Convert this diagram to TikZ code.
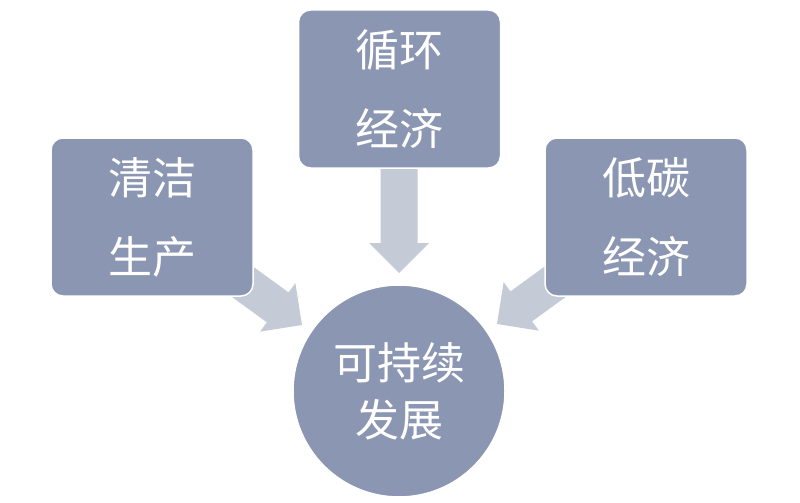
\documentclass[tikz,border=0pt]{standalone}
\usepackage{fontspec}
\newfontfamily\cjk{Noto Sans CJK SC}
\definecolor{boxfill}{RGB}{139,150,178}
\definecolor{arrowfill}{RGB}{197,202,215}
\tikzset{
  card/.style={draw=white, line width=1.5pt, fill=boxfill, rounded corners=12pt,
    minimum width=202pt, minimum height=158pt, inner sep=0pt, text=white,
    align=center, font=\cjk\fontsize{44}{79}\selectfont},
  hub/.style={draw=white, line width=1.5pt, fill=boxfill, circle, minimum size=212pt,
    inner sep=0pt, text=white, align=center, font=\cjk\fontsize{44}{57}\selectfont},
  blockarrow/.style={fill=arrowfill, draw=none}
}
\newcommand{\blockarr}[3]{% tip coordinate, angle, shaft length
  \begin{scope}[shift={(#1)}, rotate=#2]
    \fill[blockarrow] (0,0) -- (-30,30) -- (-30,18.5) -- (-#3,18.5) -- (-#3,-18.5)
      -- (-30,-18.5) -- (-30,-30) -- cycle;
  \end{scope}}
\begin{document}
\begin{tikzpicture}[x=1pt, y=-1pt]
  \useasboundingbox (0,0) rectangle (800,503);
  \coordinate (tipT) at (399,273);
  \coordinate (tipL) at (302,325);
  \coordinate (tipR) at (497,324);
  \blockarr{tipT}{-90}{115}
  \blockarr{tipL}{-36}{100}
  \blockarr{tipR}{-144}{100}
  \node[card] (top) at (399.5,89) {循环\\经济};
  \node[card] (left) at (152,217) {清洁\\生产};
  \node[card] (right) at (646,217) {低碳\\经济};
  \node[hub] (hub) at (399,391) {可持续\\发展};
\end{tikzpicture}
\end{document}
